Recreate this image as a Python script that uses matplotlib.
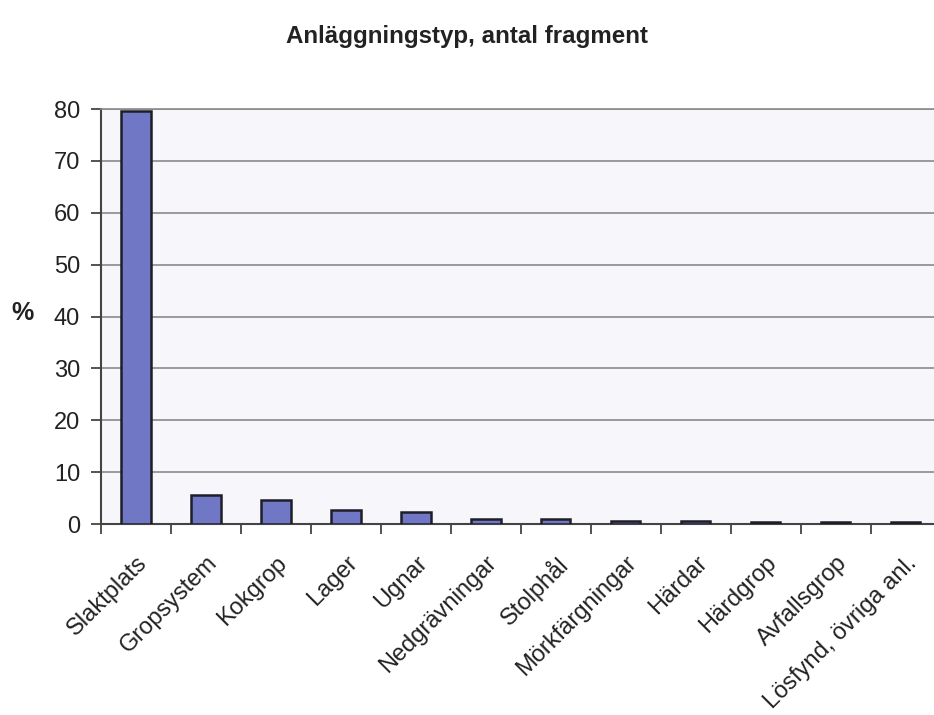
import matplotlib.pyplot as plt

plt.rcParams['font.family'] = ['Liberation Sans', 'DejaVu Sans']

categories = ['Slaktplats', 'Gropsystem', 'Kokgrop', 'Lager', 'Ugnar',
              'Nedgrävningar', 'Stolphål', 'Mörkfärgningar', 'Härdar',
              'Härdgrop', 'Avfallsgrop', 'Lösfynd, övriga anl.']
values = [79.6, 5.6, 4.6, 2.7, 2.3, 1.0, 1.0, 0.6, 0.6, 0.4, 0.4, 0.4]
yticks = [0, 10, 20, 30, 40, 50, 60, 70, 80]

fig = plt.figure(figsize=(9.34, 7.15), dpi=100)
ax = fig.add_axes([0.1081, 0.2671, 0.899, 0.5804])
ax.set_facecolor('#f6f6fb')

x = list(range(len(categories)))
ax.bar(x, values, width=0.42, color='#7078c6', edgecolor='#1e1e28',
       linewidth=1.8, zorder=3)

ax.set_xlim(-0.5, len(categories) - 0.5)
ax.set_ylim(0, 80)
ax.set_yticks(yticks)
ax.yaxis.grid(True, color='#8a8a8a', linewidth=1.2, zorder=0)

# tick marks between categories, labels at centers
ax.set_xticks([i - 0.5 for i in range(len(categories) + 1)])
ax.set_xticklabels([])
ax.set_xticks(x, minor=True)
ax.set_xticklabels(categories, minor=True, rotation=45, ha='right',
                   rotation_mode='anchor', fontsize=17, color='#222222')
ax.tick_params(axis='x', which='minor', length=0, pad=20)
ax.tick_params(axis='x', which='major', length=7, width=1.3,
               direction='out', color='#444444')
ax.tick_params(axis='y', length=7, width=1.3, direction='out',
               color='#444444', labelsize=17, labelcolor='#222222', pad=8)

for s in ['left', 'bottom']:
    ax.spines[s].set_color('#444444')
    ax.spines[s].set_linewidth(1.5)
ax.spines['top'].set_color('#8a8a8a')
ax.spines['top'].set_linewidth(1.2)
ax.spines['right'].set_visible(False)

fig.text(0.024, 0.5617, '%', fontsize=18, fontweight='bold', ha='center',
         va='center', color='#222222')
fig.suptitle('Anläggningstyp, antal fragment', x=0.5, y=0.965,
             fontsize=17.4, fontweight='bold', color='#222222')

fig.savefig('out.png', dpi=100, facecolor='white')
